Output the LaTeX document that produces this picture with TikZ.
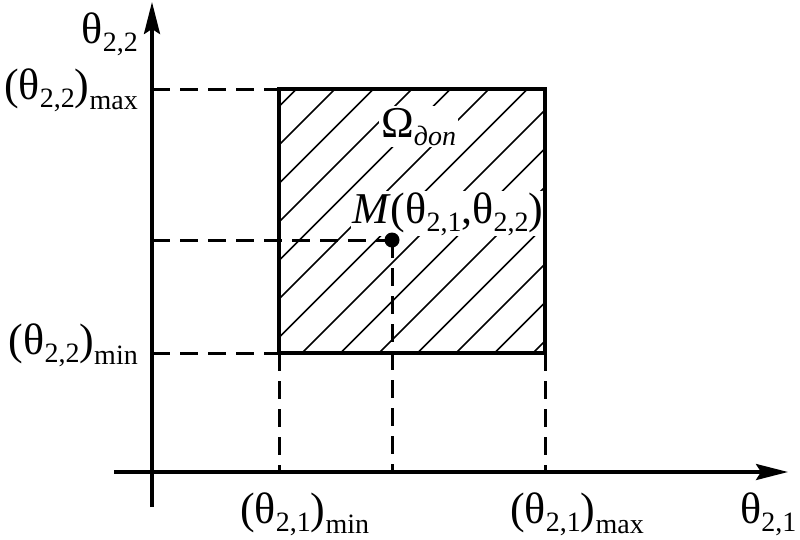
\documentclass[tikz,border=0pt]{standalone}
\usepackage{fontspec}
\setmainfont{Liberation Serif}
\usetikzlibrary{arrows.meta}
\newcommand{\mysb}[2][8pt]{\raisebox{-#1}{\fontsize{28}{30}\selectfont #2}}
\begin{document}
\begin{tikzpicture}[x=1pt,y=-1pt,
  axis/.style={line width=3.4pt,-{Stealth[length=32pt,width=16pt,inset=5pt]}},
  guide/.style={line width=3pt,dash pattern=on 18pt off 10pt},
  frame/.style={line width=3.4pt},
  hatch/.style={line width=1.7pt},
  lbl/.style={inner sep=0pt,font=\fontsize{44}{48}\selectfont},
]
\useasboundingbox (0,0) rectangle (800,539);
% coordinates
\coordinate (xs) at (114,472);
\coordinate (xe) at (788,472);
\coordinate (ys) at (152,507);
\coordinate (ye) at (152,2);
\coordinate (TL) at (279,89);
\coordinate (BR) at (545,353);
\coordinate (BL) at (279,353);
\coordinate (BRx) at (545,472);
\coordinate (BLx) at (279,472);
\coordinate (ymax) at (152,89);
\coordinate (ymin) at (152,353);
\coordinate (ym) at (152,240);
\coordinate (xm) at (392,472);
% hatching
\begin{scope}
  \clip (TL) rectangle (BR);
  \foreach \k in {-8,...,7}
    \draw[hatch] ({655+38.5*\k-400},400) -- ({655+38.5*\k-50},50);
\end{scope}
% labels inside region (white background)
\node[lbl,anchor=base west,fill=white,inner sep=2pt] (om) at (379,137) {Ω\mysb{\textit{доп}}};
\node[lbl,anchor=base west,fill=white,inner sep=1pt] (ml) at (351,223) {\textit{M}(θ\mysb{2,1},θ\mysb{2,2})};
% frame
\draw[frame] (TL) rectangle (BR);
% point
\node[circle,fill,inner sep=0pt,minimum size=15pt] (M) at (392,240) {};
% guides
\draw[guide] (ymax) -- (TL);
\draw[guide] (ymin) -- (BL);
\draw[guide] (ym) -- (M.center);
\draw[guide] (M.center) -- (xm);
\draw[guide] (BL) -- (BLx);
\draw[guide] (BR) -- (BRx);
% axes
\draw[axis] (xs) -- (xe);
\draw[axis] (ys) -- (ye);
% axis labels
\node[lbl,anchor=base east] (ty) at (138,43) {θ\mysb{2,2}};
\node[lbl,anchor=base east] (tymax) at (138,99) {(θ\mysb{2,2})\mysb[10pt]{max}};
\node[lbl,anchor=base east] (tymin) at (138,354) {(θ\mysb{2,2})\mysb[10pt]{min}};
\node[lbl,anchor=base west] (txmin) at (240,523) {(θ\mysb{2,1})\mysb[10pt]{min}};
\node[lbl,anchor=base west] (txmax) at (510,523) {(θ\mysb{2,1})\mysb[10pt]{max}};
\node[lbl,anchor=base west] (tx) at (740,523) {θ\mysb{2,1}};
\end{tikzpicture}
\end{document}
